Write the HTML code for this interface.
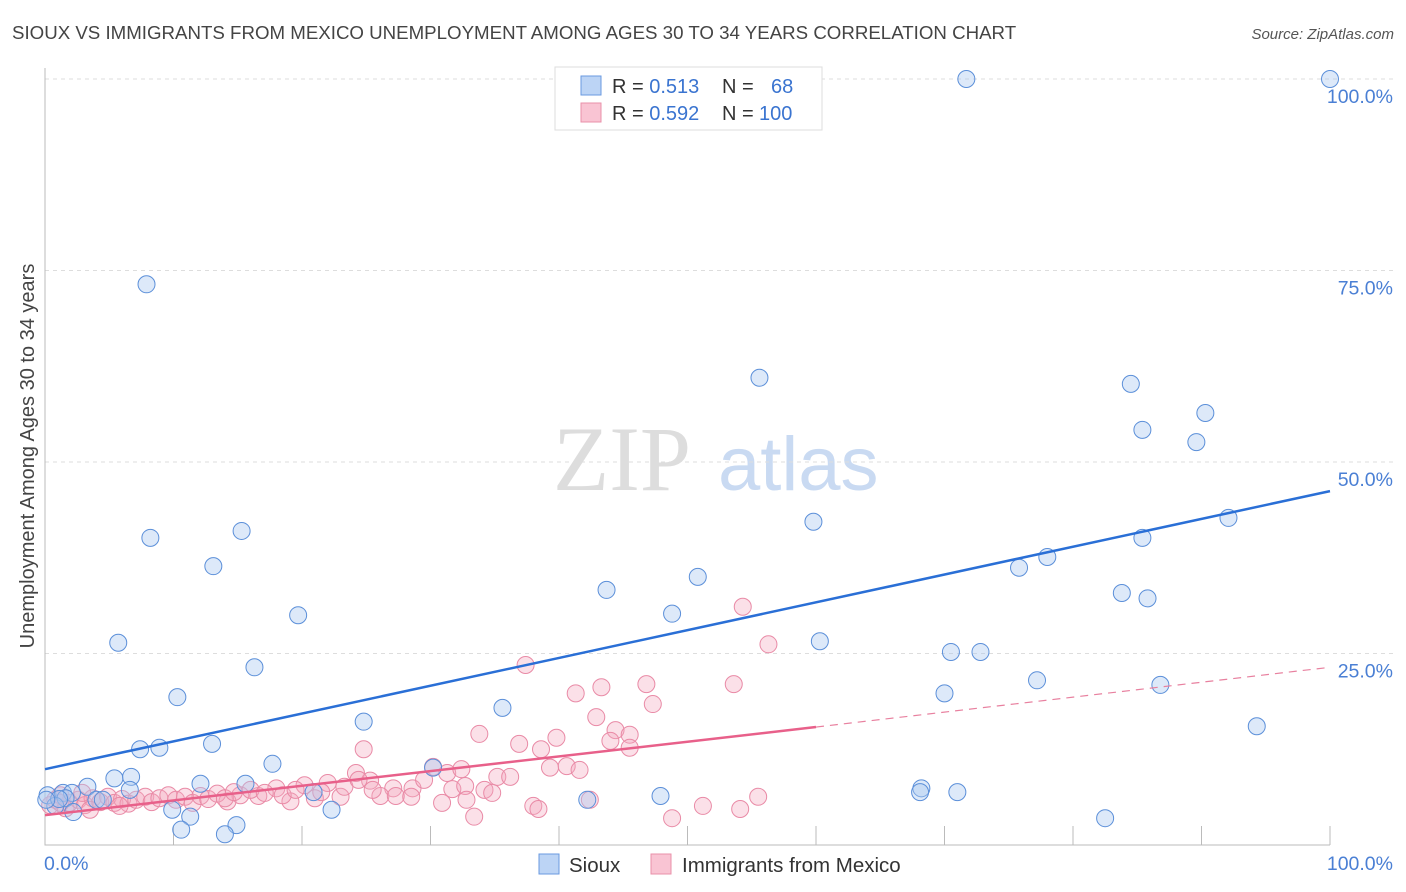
<!DOCTYPE html>
<html><head><meta charset="utf-8"><style>
body{margin:0;background:#fff;font-family:"Liberation Sans",sans-serif}
svg{display:block}
</style></head><body>
<svg id="c" width="1406" height="892">
<text x="12" y="39" font-size="18.7" fill="#444">SIOUX VS IMMIGRANTS FROM MEXICO UNEMPLOYMENT AMONG AGES 30 TO 34 YEARS CORRELATION CHART</text>
<text x="1394" y="39" font-size="15" fill="#555" font-style="italic" text-anchor="end">Source: ZipAtlas.com</text>
<g><text x="553" y="490" font-size="92" fill="#ddd" font-family="Liberation Serif,serif">ZIP</text><text x="718" y="490" font-size="76" fill="#c9daf2">atlas</text></g>
<text transform="translate(34,456) rotate(-90)" font-size="20" fill="#444" text-anchor="middle">Unemployment Among Ages 30 to 34 years</text>
<g id="grid"></g><g id="axes"></g><g id="pts"></g><g id="lines"></g>
<g>
<rect x="555" y="67" width="267" height="63" fill="#fff" stroke="#ddd"/>
<rect x="581" y="76" width="20" height="19" fill="#bcd4f5" stroke="#6a9ae0"/>
<rect x="581" y="103" width="20" height="19" fill="#f9c4d3" stroke="#e990aa"/>
<text x="612" y="93" font-size="20" fill="#333">R = <tspan fill="#3a74d0">0.513</tspan><tspan x="722">N = </tspan><tspan x="771" fill="#3a74d0">68</tspan></text>
<text x="612" y="120" font-size="20" fill="#333">R = <tspan fill="#3a74d0">0.592</tspan><tspan x="722">N = </tspan><tspan x="759" fill="#3a74d0">100</tspan></text>
</g>
<g>
<rect x="539" y="854" width="20" height="20" fill="#bcd4f5" stroke="#6a9ae0"/>
<text x="569" y="872" font-size="20.5" fill="#333">Sioux</text>
<rect x="651" y="854" width="20" height="20" fill="#f9c4d3" stroke="#e990aa"/>
<text x="682" y="872" font-size="20.5" fill="#333">Immigrants from Mexico</text>
</g>
</svg>
<script>
const siouxX=[71.7,100,7.9,55.6,84.5,90.3,85.4,89.6,15.3,8.2,59.8,92.1,85.4,78.0,75.8,13.1,50.8,43.7,83.8,85.8,19.7,48.8,60.3,5.7,70.5,72.8,16.3,86.8,70.0,10.3,77.2,35.6,24.8,94.3,13.0,7.4,8.9,17.7,30.2,5.4,6.7,3.3,12.1,15.6,68.2,68.1,71.0,47.9,42.2,0.2,1.4,2.1,1.6,4.0,4.5,0.8,2.2,9.9,11.3,22.3,10.6,14.9,14.0,82.5,20.9,6.6,1.1,0.1];
const siouxY=[100,100,73.2,61.0,60.2,56.4,54.2,52.6,41.0,40.1,42.2,42.7,40.1,37.6,36.2,36.4,35.0,33.3,32.9,32.2,30.0,30.2,26.6,26.4,25.2,25.2,23.2,20.9,19.8,19.3,21.5,17.9,16.1,15.5,13.2,12.5,12.7,10.6,10.1,8.7,8.9,7.6,8.0,8.0,7.4,6.9,6.9,6.4,5.9,6.5,6.8,6.8,6.1,5.9,5.9,5.1,4.3,4.6,3.7,4.6,2.0,2.6,1.4,3.5,6.9,7.2,6.0,5.9];
const mexX=[54.3,56.3,37.4,43.3,46.8,41.3,53.6,47.3,42.9,44.4,45.5,44.0,45.5,24.8,33.8,36.9,38.6,39.8,30.2,31.3,32.4,39.3,40.6,41.6,24.2,25.3,27.1,28.6,29.5,31.7,32.7,34.2,35.2,36.2,30.9,32.8,34.8,38.0,38.4,33.4,48.8,51.2,54.1,55.5,42.4,26.1,27.3,28.5,20.2,22.0,23.0,19.1,18.0,16.6,15.2,14.2,23.3,21.0,0.4,0.8,1.2,1.6,1.9,2.6,3.1,3.7,4.3,4.9,5.4,6.0,6.5,7.1,7.8,8.3,8.9,9.6,10.2,10.9,11.5,12.1,12.7,13.4,14.0,14.7,16.0,17.1,18.5,19.5,21.5,24.4,25.5,3.5,5.8,1.2,2.9];
const mexY=[31.1,26.2,23.5,20.6,21.0,19.8,21.0,18.4,16.7,15.0,14.4,13.6,12.7,12.5,14.5,13.2,12.5,14.0,10.2,9.4,9.9,10.1,10.3,9.8,9.4,8.4,7.4,7.4,8.5,7.3,7.7,7.2,8.9,8.9,5.5,5.9,6.8,5.1,4.7,3.7,3.5,5.1,4.7,6.3,5.9,6.4,6.4,6.3,7.8,8.1,6.3,5.7,7.4,6.4,6.5,5.7,7.6,6.1,5.2,5.9,6.5,4.8,5.5,5.9,5.2,6.1,5.6,6.3,5.5,6.0,5.4,5.9,6.3,5.6,6.1,6.5,5.9,6.3,5.5,6.4,6.0,6.7,6.1,6.9,7.2,6.8,6.5,7.2,6.9,8.5,7.2,4.6,5.1,5.5,6.8];
const yTicks=[25,50,75,100];
const yTickLabels=["25.0%","50.0%","75.0%","100.0%"];
const xTicks=[0,10,20,30,40,50,60,70,80,90,100];
const siouxTrend=[[0,9.9],[100,46.2]];
const mexTrend=[[0,3.9],[60,15.4],[100,23.2]];
const NS='http://www.w3.org/2000/svg';
const X0=45,X1=1330,Y0=845,Y100=79;
const sx=v=>X0+(X1-X0)*v/100, sy=v=>Y0-(Y0-Y100)*v/100;
function mk(t,a,p){const e=document.createElementNS(NS,t);for(const k in a)e.setAttribute(k,a[k]);p.appendChild(e);return e;}
const grid=document.getElementById('grid'),axes=document.getElementById('axes'),pts=document.getElementById('pts'),lines=document.getElementById('lines');
yTicks.forEach((v,i)=>{
 const l=mk('line',{x1:45,x2:1395,y1:sy(v),y2:sy(v),stroke:'#ddd','stroke-dasharray':'4,4'},grid);
 
 
 const t=mk('text',{x:1393,y:sy(v)+24,'text-anchor':'end','font-size':19.5,fill:'#4a7fd4'},grid);
 t.textContent=yTickLabels[i];
 
 
});
const ax=mk('path',{d:`M45,68V${Y0}H1330`,stroke:'#bbb',fill:'none'},axes);


xTicks.forEach(v=>{if(v===0)return;const t=mk('line',{x1:sx(v),x2:sx(v),y1:826,y2:845,stroke:'#bbb'},axes);
 
 });
const xl=mk('text',{x:44,y:870,'font-size':19.5,fill:'#4a7fd4'},axes);xl.textContent='0.0%';


const xr=mk('text',{x:1393,y:870,'font-size':19.5,fill:'#4a7fd4','text-anchor':'end'},axes);xr.textContent='100.0%';


mexX.forEach((v,i)=>{const c=mk('circle',{cx:sx(v),cy:sy(mexY[i]),r:8.5,fill:'rgba(244,167,189,0.35)',stroke:'#e98aa6','stroke-width':1},pts);
 
 });
siouxX.forEach((v,i)=>{const c=mk('circle',{cx:sx(v),cy:sy(siouxY[i]),r:8.5,fill:'rgba(169,200,240,0.4)',stroke:'#5b8fd9','stroke-width':1},pts);
 
 });
const bl=mk('line',{x1:sx(siouxTrend[0][0]),y1:sy(siouxTrend[0][1]),x2:sx(siouxTrend[1][0]),y2:sy(siouxTrend[1][1]),stroke:'#2a6fd6','stroke-width':2.5},lines);


const pl=mk('line',{x1:sx(mexTrend[0][0]),y1:sy(mexTrend[0][1]),x2:sx(mexTrend[1][0]),y2:sy(mexTrend[1][1]),stroke:'#e8608a','stroke-width':2.5},lines);


const pd=mk('line',{x1:sx(mexTrend[1][0]),y1:sy(mexTrend[1][1]),x2:sx(mexTrend[2][0]),y2:sy(mexTrend[2][1]),stroke:'#e8809f','stroke-width':1.2,'stroke-dasharray':'8,6'},lines);


</script>
</body></html>
